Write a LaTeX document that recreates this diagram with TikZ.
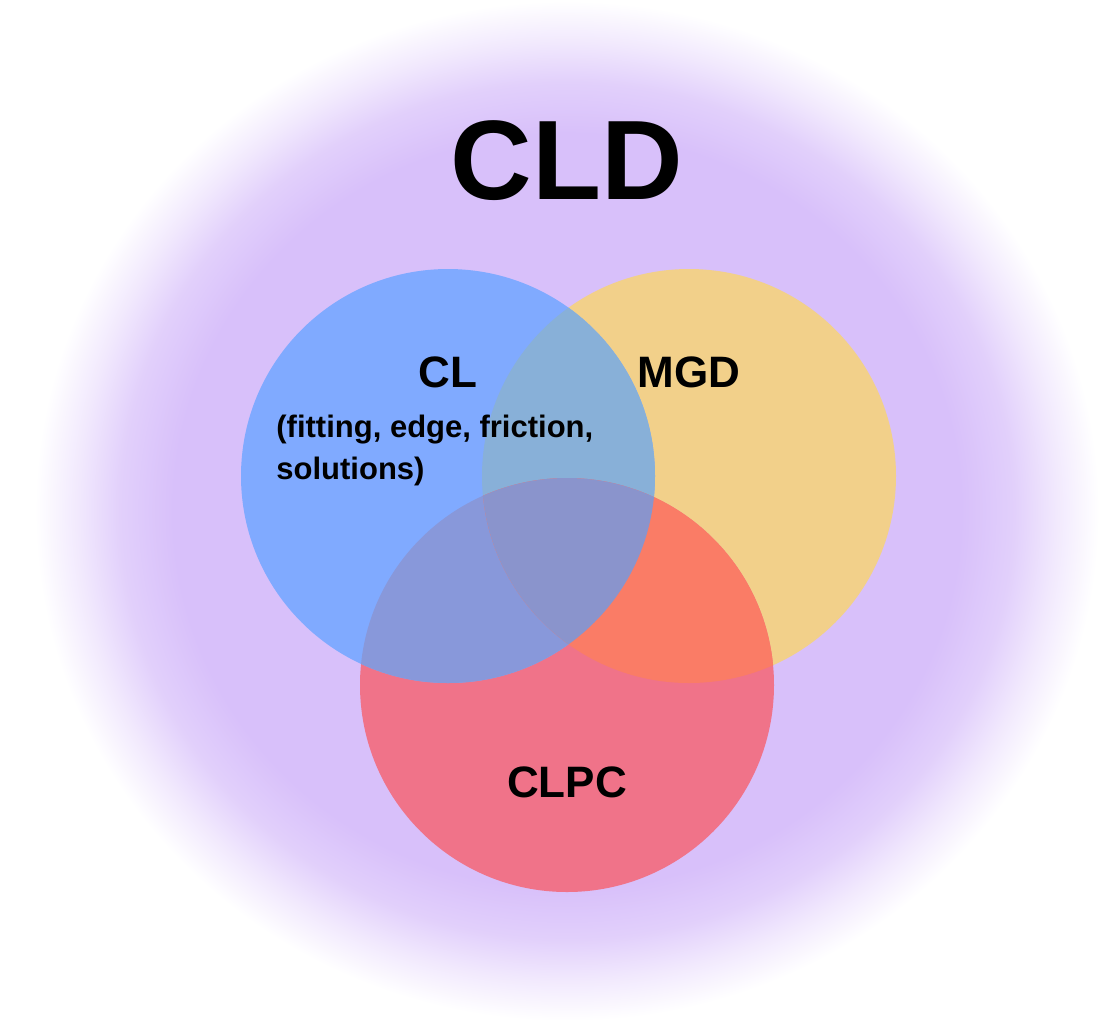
\documentclass[tikz,border=0pt]{standalone}
\usepackage{fontspec}
\setmainfont{Liberation Sans}
\definecolor{lavanda}{HTML}{D8C0FA}
\definecolor{azul}{HTML}{80AAFF}
\definecolor{naranja}{HTML}{F2D08A}
\definecolor{rojo}{HTML}{F07389}
\definecolor{azulnaranja}{HTML}{88B0D8}
\definecolor{azulrojo}{HTML}{8898DA}
\definecolor{naranjarojo}{HTML}{FA7C66}
\definecolor{centro}{HTML}{8A94CC}
\pgfdeclareradialshading{halo}{\pgfpoint{0bp}{0bp}}{%
  color(0bp)=(lavanda); color(18.5bp)=(lavanda); color(21bp)=(lavanda!75!white);
  color(23bp)=(lavanda!35!white); color(25bp)=(white); color(50bp)=(white)}
\begin{document}
\begin{tikzpicture}[
      x=0.5pt, y=-0.5pt,
      every node/.style={font=\bfseries, inner sep=0pt},
      circulo/.style={circle, draw=none, minimum size=207pt, inner sep=0pt},
      titulo/.style={font=\fontsize{56.5}{62}\selectfont\bfseries, anchor=base},
      etiqueta/.style={font=\fontsize{22}{26}\selectfont\bfseries, anchor=base},
      detalle/.style={font=\fontsize{15.5}{21}\selectfont\bfseries, align=left, anchor=base west}
    ]
    % Fondo con halo lavanda
    \useasboundingbox[fill=white] (0,0) rectangle (1119,1019);
    \shade[shading=halo] (567,511) ellipse [x radius=266pt, y radius=255pt];
    % Los tres conjuntos
    \node[circulo, fill=naranja] (mgd) at (689,476) {};
    \node[circulo, fill=rojo] (clpc) at (567,685) {};
    \node[circulo, fill=azul] (cl) at (448,476) {};
    % Intersecciones
    \begin{scope}
      \clip (cl.center) circle (103.5pt);
      \fill[azulnaranja] (mgd.center) circle (103.5pt);
      \fill[azulrojo] (clpc.center) circle (103.5pt);
    \end{scope}
    \begin{scope}
      \clip (mgd.center) circle (103.5pt);
      \fill[naranjarojo] (clpc.center) circle (103.5pt);
      \clip (clpc.center) circle (103.5pt);
      \fill[centro] (cl.center) circle (103.5pt);
    \end{scope}
    % Textos
    \node[titulo] (tcld) at (567,199) {CLD};
    \node[etiqueta] (tcl) at (448,387) {CL};
    \node[etiqueta] (tmgd) at (689,387) {MGD};
    \node[etiqueta] (tclpc) at (567,797) {CLPC};
    \node[detalle] (tdet) at (276,479) {(fitting, edge, friction,\\solutions)};
  \end{tikzpicture}
\end{document}
